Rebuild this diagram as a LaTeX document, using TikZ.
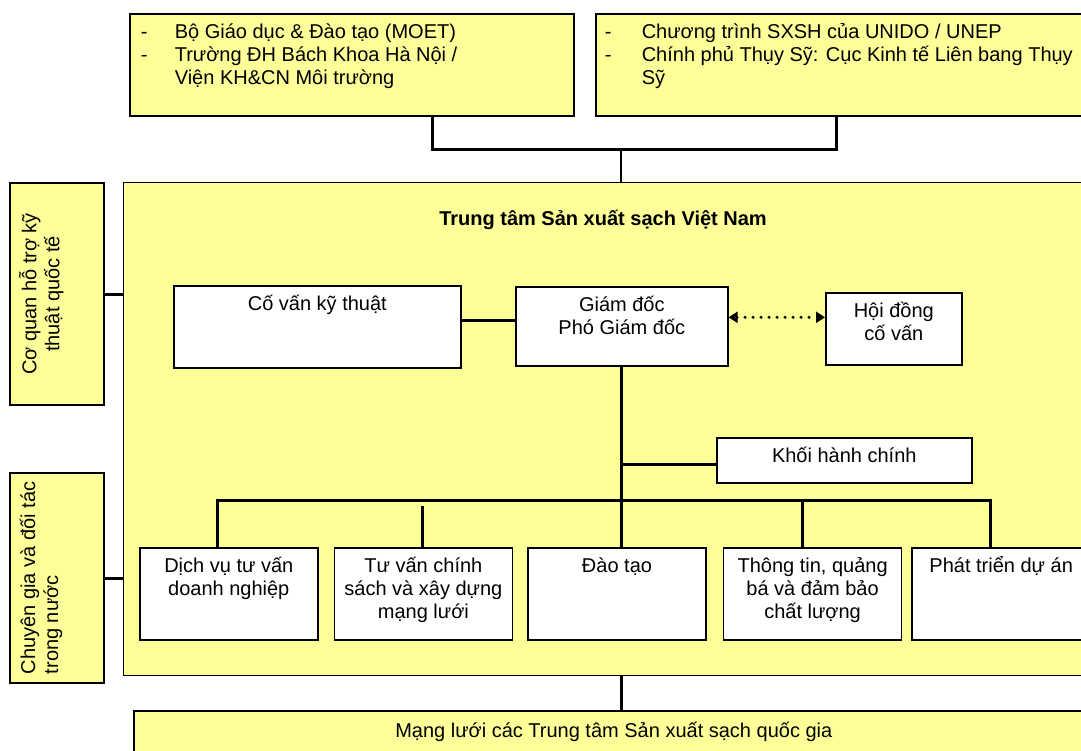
\documentclass[tikz,border=0pt]{standalone}
\usepackage{fontspec}
\setmainfont{Liberation Sans}
\usetikzlibrary{positioning,arrows.meta}
\definecolor{vang}{HTML}{FFFF99}
\newcommand{\noidung}[3]{\parbox[c][#2][t]{#1}{\centering\vspace*{9pt}\strut#3}}

\begin{document}
\begin{tikzpicture}[
    x=1pt, y=-1pt,
    >={Triangle[length=9pt,width=11pt]},
    every node/.style={font=\fontsize{20}{23}\selectfont},
    khung/.style={rectangle, draw, fill=white, line width=1.6pt, inner sep=0pt},
    khungvang/.style={khung, fill=vang},
    noi/.style={line width=3pt},
    chamcham/.style={<->, line width=3.4pt, dash pattern=on 0pt off 8pt, line cap=round}
]
\useasboundingbox (0,0) rectangle (1081,751);

% co quan chu quan
\node[khungvang, anchor=north west] (tl) at (129,13) {\parbox[c][102pt][t]{444pt}{\vspace*{9pt}\hspace*{11pt}\begin{tabular}[t]{@{}p{34pt}@{}l@{}}
  - & Bộ Giáo dục \& Đào tạo (MOET)\\
  - & Trường ĐH Bách Khoa Hà Nội /\\
    & Viện KH\&CN Môi trường
\end{tabular}}};
\node[khungvang, anchor=north west] (tr) at (595,13) {\parbox[c][102pt][t]{500pt}{\vspace*{9pt}\hspace*{9pt}\begin{tabular}[t]{@{}p{37pt}@{}l@{}}
  - & Chương trình SXSH của UNIDO / UNEP\\
  - & Chính phủ Thụy Sỹ: Cục Kinh tế Liên bang Thụy\\
    & Sỹ
\end{tabular}}};

% trung tam
\node[khungvang, line width=1.2pt, minimum width=972pt, minimum height=493pt, anchor=north west] (ttm) at (123,182) {};
\node[font=\fontsize{20}{23}\selectfont\bfseries] (tieude) at (603,220) {Trung tâm Sản xuất sạch Việt Nam};

% ben trai
\node[khungvang, rotate=90] (lb1) at (57,294) {\noidung{222pt}{94pt}{Cơ quan hỗ trợ kỹ\\thuật quốc tế}};
\node[khungvang, rotate=90] (lb2) at (57,578) {\noidung{210pt}{94pt}{\begin{tabular}[t]{@{}l@{}}Chuyên gia và đối tác\\trong nước\end{tabular}}};

% ban lanh dao
\node[khung, anchor=north west] (cv) at (173,285) {\noidung{287pt}{82pt}{Cố vấn kỹ thuật}};
\node[khung, anchor=north west] (gd) at (515,286) {\noidung{212pt}{79pt}{Giám đốc\\Phó Giám đốc}};
\node[khung, anchor=north west] (hd) at (825,292) {\noidung{136pt}{72pt}{Hội đồng\\cố vấn}};
\node[khung, anchor=north west] (kh) at (716,437) {\noidung{255pt}{45pt}{Khối hành chính}};

% cac bo phan
\node[khung, anchor=north west] (c1) at (139,547) {\noidung{178pt}{92pt}{Dịch vụ tư vấn\\doanh nghiệp}};
\node[khung, right=15pt of c1] (c2) {\noidung{178pt}{92pt}{Tư vấn chính\\sách và xây dựng\\mạng lưới}};
\node[khung, right=14pt of c2] (c3) {\noidung{178pt}{92pt}{Đào tạo}};
\node[khung, right=16pt of c3] (c4) {\noidung{178pt}{92pt}{Thông tin, quảng\\bá và đảm bảo\\chất lượng}};
\node[khung, right=9pt of c4] (c5) {\noidung{178pt}{92pt}{Phát triển dự án}};

% mang luoi
\node[khungvang, anchor=north west] (ml) at (133,710) {\parbox[c][60pt][t]{960pt}{\centering\vspace*{11pt}\strut Mạng lưới các Trung tâm Sản xuất sạch quốc gia}};

\coordinate (hub) at (621,150);
\coordinate (b1) at (217,500);
\coordinate (b2) at (422,506);
\coordinate (b3) at (621,500);
\coordinate (b4) at (802,500);
\coordinate (b5) at (990,500);
\coordinate (cvn) at ([yshift=6pt]cv.east);
\coordinate (khn) at ([yshift=-4pt]kh.west);

\draw[noi] ([xshift=81pt]tl.south) |- (hub) -| ([xshift=-9pt]tr.south);
\draw[line width=2pt] (hub) -- (hub |- ttm.north);
\draw[noi] (lb1.south) -- (lb1.south -| ttm.west);
\draw[noi] (lb2.south) -- (lb2.south -| ttm.west);
\draw[noi] (cvn) -- (cvn -| gd.west);
\draw[chamcham] ([yshift=9pt]gd.east) -- ([yshift=9pt]gd.east -| hd.west);
\draw[noi] (gd.south) -- (gd.south |- c3.north);
\draw[noi] (khn -| gd.south) -- (khn);
\draw[noi] (b1 |- c1.north) -- (b1) -- (b5) -- (b5 |- c5.north);
\draw[noi] (b2) -- (b2 |- c2.north);
\draw[noi] (b4) -- (b4 |- c4.north);
\draw[noi] (b3 |- ttm.south) -- (b3 |- ml.north);

\end{tikzpicture}
\end{document}
